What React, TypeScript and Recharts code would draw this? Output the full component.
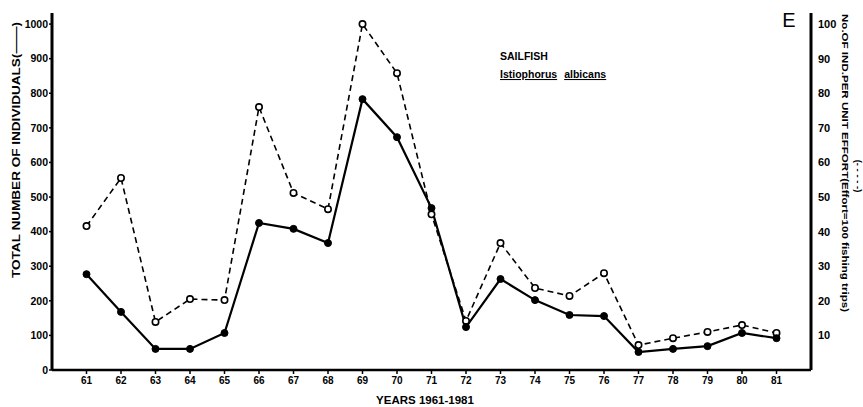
import { LineChart, Line, XAxis, YAxis, Label } from 'recharts';

const FONT = '"Liberation Sans", Arial, Helvetica, sans-serif';

// survey years 1961-1981 (two-digit labels as on the original)
const years = [61, 62, 63, 64, 65, 66, 67, 68, 69, 70, 71, 72, 73, 74, 75, 76, 77, 78, 79, 80, 81];

// total number of individuals (solid line, left axis)
const totalIndividuals = [277, 168, 61, 61, 107, 425, 408, 367, 783, 673, 468, 124, 263, 202, 159, 156, 52, 61, 69, 107, 92];

// individuals per unit effort, effort = 100 fishing trips (dashed line, right axis)
const perUnitEffort = [41.6, 55.5, 13.9, 20.5, 20.2, 76, 51.2, 46.5, 100, 85.8, 45, 14.2, 36.7, 23.7, 21.4, 28, 7.2, 9.2, 11, 13, 10.7];

const leftTicks = [0, 100, 200, 300, 400, 500, 600, 700, 800, 900, 1000];
const rightTicks = [10, 20, 30, 40, 50, 60, 70, 80, 90, 100];

const data = years.map((year, i) => ({
    year,
    total: totalIndividuals[i],
    effort: perUnitEffort[i],
}));

const bold = { fill: '#000', fontFamily: FONT, fontWeight: 700 };

const OpenDot = (props: any) => {
    const { cx, cy } = props;
    if (cx == null || cy == null) return null;
    return <circle cx={cx} cy={cy} r={3.2} fill="#fff" stroke="#000" strokeWidth={1.6} />;
};

export default function App() {
    return (
        <div style={{ position: 'absolute', left: 0, top: 0, width: 863, height: 407, background: '#fff' }}>
            <LineChart width={863} height={407} data={data} margin={{ top: 13, right: 0, bottom: 0, left: 0 }}>
                <XAxis
                    dataKey="year"
                    type="number"
                    domain={[60, 82]}
                    ticks={years}
                    interval={0}
                    height={37}
                    tickSize={4}
                    tickMargin={3}
                    axisLine={{ stroke: '#000', strokeWidth: 2.5 }}
                    tickLine={{ stroke: '#000', strokeWidth: 1.5 }}
                    tick={{ ...bold, fontSize: 10 }}
                >
                    <Label
                        content={() => (
                            <text x={425} y={404} textAnchor="middle" fontSize={11.5} {...bold}>
                                YEARS  1961-1981
                            </text>
                        )}
                    />
                </XAxis>
                <YAxis
                    yAxisId="left"
                    domain={[0, 1032]}
                    ticks={leftTicks}
                    interval={0}
                    width={52}
                    tickSize={3}
                    tickMargin={1}
                    axisLine={{ stroke: '#000', strokeWidth: 3 }}
                    tickLine={{ stroke: '#000', strokeWidth: 1.5 }}
                    tick={{ ...bold, fontSize: 10.5 }}
                >
                    <Label
                        content={() => (
                            <text
                                x={16}
                                y={150}
                                transform="rotate(-90 16 150)"
                                textAnchor="middle"
                                dominantBaseline="central"
                                textLength={256}
                                lengthAdjust="spacingAndGlyphs"
                                fontSize={10.5}
                                {...bold}
                            >
                                TOTAL NUMBER OF INDIVIDUALS(——)
                            </text>
                        )}
                    />
                </YAxis>
                <YAxis
                    yAxisId="right"
                    orientation="right"
                    domain={[0, 103.2]}
                    ticks={rightTicks}
                    interval={0}
                    width={52}
                    tickLine={false}
                    tickSize={6}
                    tickMargin={1}
                    axisLine={{ stroke: '#000', strokeWidth: 3 }}
                    tick={{ ...bold, fontSize: 11 }}
                >
                    <Label
                        content={() => (
                            <g>
                                <text
                                    x={845}
                                    y={163}
                                    transform="rotate(90 845 163)"
                                    textAnchor="middle"
                                    dominantBaseline="central"
                                    textLength={298}
                                    lengthAdjust="spacingAndGlyphs"
                                    fontSize={9.5}
                                    {...bold}
                                >
                                    No.OF IND.PER UNIT EFFORT(Effort=100 fishing trips)
                                </text>
                                <text
                                    x={858}
                                    y={176}
                                    transform="rotate(90 858 176)"
                                    textAnchor="middle"
                                    dominantBaseline="central"
                                    fontSize={9.5}
                                    {...bold}
                                >
                                    (- - - - -)
                                </text>
                                <text x={789} y={27} textAnchor="middle" fontSize={20} fill="#000" fontFamily={FONT}>
                                    E
                                </text>
                                <text x={500} y={60} fontSize={10.5} {...bold}>
                                    SAILFISH
                                </text>
                                <text x={500} y={78} fontSize={10.5} {...bold} textDecoration="underline">
                                    <tspan>Istiophorus</tspan>
                                    <tspan dx={7}>albicans</tspan>
                                </text>
                            </g>
                        )}
                    />
                </YAxis>
                <Line
                    yAxisId="right"
                    type="linear"
                    dataKey="effort"
                    stroke="#000"
                    strokeWidth={1.6}
                    strokeDasharray="6 4"
                    dot={<OpenDot />}
                    activeDot={false}
                    isAnimationActive={false}
                />
                <Line
                    yAxisId="left"
                    type="linear"
                    dataKey="total"
                    stroke="#000"
                    strokeWidth={2.2}
                    dot={{ r: 3.5, fill: '#000', stroke: '#000', strokeWidth: 1 }}
                    activeDot={false}
                    isAnimationActive={false}
                />
            </LineChart>
        </div>
    );
}
